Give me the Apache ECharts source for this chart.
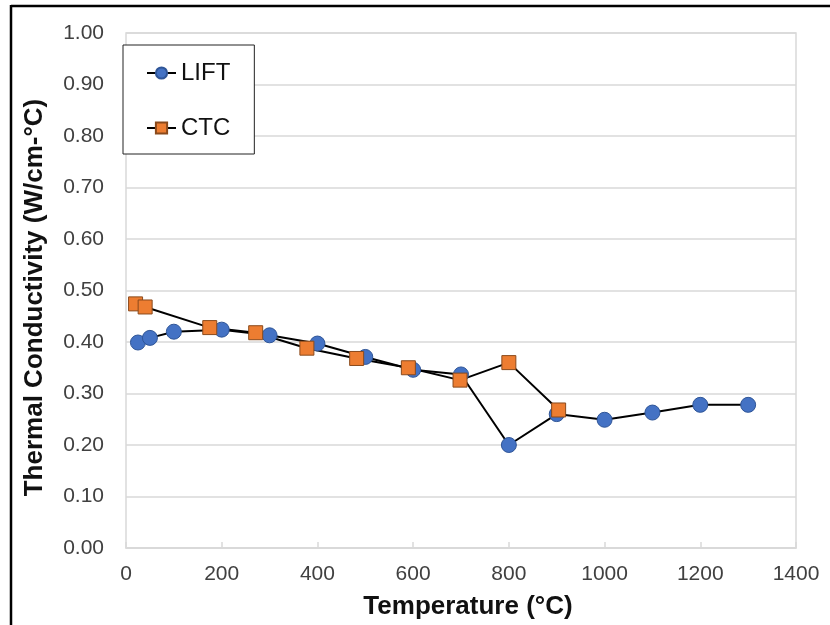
<!DOCTYPE html>
<html>
<head>
<meta charset="utf-8">
<script src="https://cdn.jsdelivr.net/npm/echarts@6/dist/echarts.min.js"></script>
<style>
  html, body { margin: 0; padding: 0; background: #fff; }
  #chart { width: 830px; height: 625px; }
</style>
</head>
<body>
<div id="chart"></div>
<script>
// Thermal conductivity vs temperature, two measurement methods
const liftTemps = [25, 50, 100, 200, 300, 400, 500, 600, 700, 800, 900, 1000, 1100, 1200, 1300];
const liftValues = [0.399, 0.408, 0.420, 0.424, 0.413, 0.397, 0.371, 0.346, 0.337, 0.200, 0.260, 0.249, 0.263, 0.278, 0.278];

const ctcTemps = [20, 40, 175, 271, 378, 482, 590, 698, 800, 904];
const ctcValues = [0.474, 0.468, 0.428, 0.418, 0.388, 0.368, 0.350, 0.326, 0.360, 0.268];

const seriesNames = ['LIFT', 'CTC'];
const xAxisTitle = 'Temperature (°C)';
const yAxisTitle = 'Thermal Conductivity (W/cm-°C)';

const pairs = (xs, ys) => xs.map((x, i) => [x, ys[i]]);
const FONT = '"Liberation Sans", Arial, sans-serif';

const chart = echarts.init(document.getElementById('chart'), null, { renderer: 'canvas' });
chart.setOption({
  backgroundColor: '#ffffff',
  animation: false,
  textStyle: { fontFamily: FONT },
  grid: {
    left: 126, right: 34, top: 33, bottom: 76,
    show: true, borderColor: '#d9d9d9', borderWidth: 1.5
  },
  legend: {
    orient: 'vertical',
    left: 123, top: 45,
    padding: [16, 24, 14, 23],
    itemGap: 31,
    itemWidth: 29, itemHeight: 14,
    backgroundColor: '#ffffff',
    borderColor: '#222',
    borderWidth: 1,
    borderRadius: 0,
    textStyle: { fontSize: 24, color: '#111', fontFamily: FONT },
    data: seriesNames
  },
  xAxis: {
    type: 'value',
    min: 0, max: 1400, interval: 200,
    name: xAxisTitle,
    nameLocation: 'middle',
    nameGap: 46,
    nameTextStyle: { fontSize: 26, fontWeight: 'bold', color: '#111', padding: [0, 0, 0, 14] },
    axisLine: { show: true, lineStyle: { color: '#d9d9d9', width: 1.5 } },
    axisTick: { show: true, inside: true, length: 6, lineStyle: { color: '#d9d9d9', width: 1.5 } },
    axisLabel: { fontSize: 21, color: '#404040', margin: 16, formatter: v => String(v) },
    splitLine: { show: false }
  },
  yAxis: {
    type: 'value',
    min: 0, max: 1, interval: 0.1,
    name: yAxisTitle,
    nameLocation: 'middle',
    nameGap: 78,
    nameTextStyle: { fontSize: 26, fontWeight: 'bold', color: '#111', padding: [0, 14, 0, 0] },
    axisLine: { show: false },
    axisTick: { show: false },
    axisLabel: { fontSize: 21, color: '#404040', margin: 22, formatter: v => v.toFixed(2) },
    splitLine: { show: true, lineStyle: { color: '#d9d9d9', width: 1.5 } }
  },
  graphic: [
    { type: 'line', shape: { x1: 11, y1: 6, x2: 830, y2: 6 }, style: { stroke: '#000', lineWidth: 2.5 }, z: 100 },
    { type: 'line', shape: { x1: 11, y1: 5, x2: 11, y2: 625 }, style: { stroke: '#000', lineWidth: 2.5 }, z: 100 }
  ],
  series: [
    {
      name: seriesNames[0],
      type: 'line',
      data: pairs(liftTemps, liftValues),
      symbol: 'circle',
      symbolSize: 15,
      lineStyle: { color: '#000', width: 2 },
      itemStyle: { color: '#4472C4', borderColor: '#2f5597', borderWidth: 1 }
    },
    {
      name: seriesNames[1],
      type: 'line',
      data: pairs(ctcTemps, ctcValues),
      symbol: 'rect',
      symbolSize: 14,
      lineStyle: { color: '#000', width: 2 },
      itemStyle: { color: '#ED7D31', borderColor: '#8a4a1c', borderWidth: 1 }
    }
  ]
});
</script>
</body>
</html>
